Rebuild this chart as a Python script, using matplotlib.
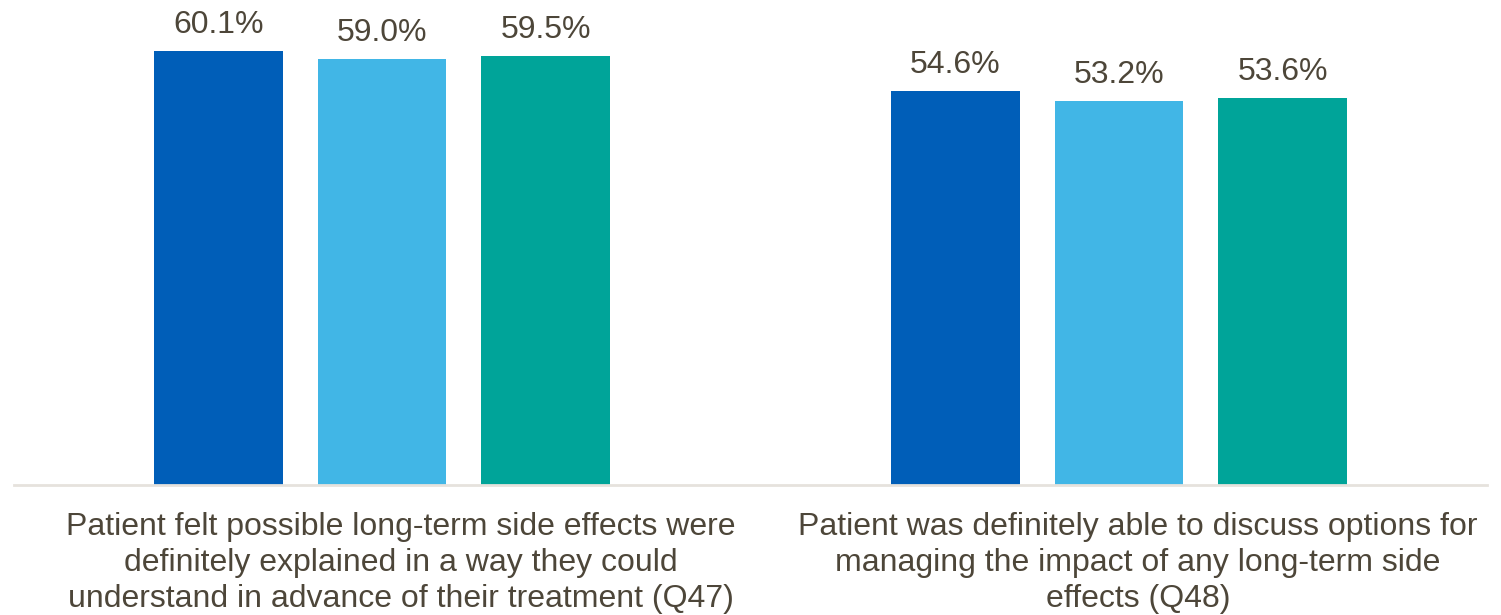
import matplotlib
matplotlib.use("Agg")
import matplotlib.pyplot as plt
from matplotlib.transforms import ScaledTranslation
import numpy as np

plt.rcParams['font.family'] = ['Liberation Sans', 'DejaVu Sans']

categories = [
    "Patient felt possible long-term side effects were\ndefinitely explained in a way they could\nunderstand in advance of their treatment (Q47)",
    "Patient was definitely able to discuss options for\nmanaging the impact of any long-term side\neffects (Q48)",
]
series_names = ["Series 1", "Series 2", "Series 3"]
values = [
    [60.1, 54.6],
    [59.0, 53.2],
    [59.5, 53.6],
]
colors = ["#005EB8", "#41B6E6", "#00A499"]
text_color = "#4D4639"

fig = plt.figure(figsize=(15.01, 6.15), dpi=100)
ax = fig.add_axes([13.5 / 1501, 1 - 485 / 615, 1474 / 1501, 485 / 615])

x = np.arange(len(categories))
bar_w = 0.175
pitch = 0.222
for i, (vals, c) in enumerate(zip(values, colors)):
    pos = x + (i - 1) * pitch
    bars = ax.bar(pos, vals, width=bar_w, color=c, label=series_names[i], zorder=2)
    for b, v in zip(bars, vals):
        ax.annotate(f"{v:.1f}%", (b.get_x() + b.get_width() / 2, v),
                    xytext=(0, 13), textcoords="offset points",
                    ha="center", va="baseline", fontsize=23, color=text_color)

ax.set_xlim(-0.5, 1.5)
ax.set_ylim(0, 67.2)
ax.set_yticks([])
ax.set_xticks(x)
ax.set_xticklabels(categories, fontsize=23, color=text_color, linespacing=1.25)
ax.tick_params(axis="x", length=0, pad=19.5)
# nudge the category labels slightly to the right
for lbl, dx in zip(ax.get_xticklabels(), [19, 19]):
    lbl.set_transform(lbl.get_transform() + ScaledTranslation(dx / 100, 0, fig.dpi_scale_trans))
for s in ["top", "right", "left"]:
    ax.spines[s].set_visible(False)
ax.spines["bottom"].set_color("#E6E2DD")
ax.spines["bottom"].set_linewidth(2)

fig.savefig("out.png", dpi=100)
